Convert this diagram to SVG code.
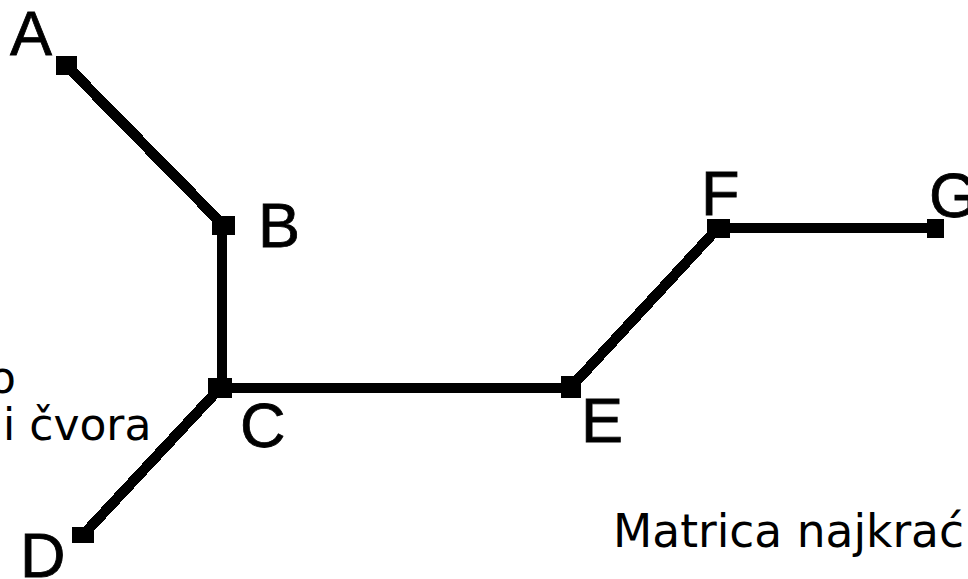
<svg xmlns="http://www.w3.org/2000/svg" width="968" height="579" viewBox="0 0 968 579">
<style>
.edge{stroke:#000;stroke-width:10.5;fill:none;stroke-linecap:butt}
.node{fill:#000}
.lbl{font-family:"Liberation Sans",Arial,sans-serif;font-size:63px;fill:#000;stroke:#000;stroke-width:0.8}
.txt{font-family:"DejaVu Sans","Verdana",sans-serif;font-size:44px;fill:#000}
</style>
<rect width="968" height="579" fill="#fff"/>
<g id="connectors" shape-rendering="crispEdges">
<line class="edge" x1="66" y1="65" x2="223" y2="225"/>
<line class="edge" x1="222" y1="225" x2="222" y2="388"/>
<line class="edge" x1="220" y1="388" x2="571" y2="388"/>
<line class="edge" x1="571" y1="387" x2="718" y2="228"/>
<line class="edge" x1="718" y1="228" x2="935" y2="228"/>
<line class="edge" x1="220" y1="388" x2="83" y2="535"/>
</g>
<g id="A"><rect class="node" x="56" y="56" width="21" height="19"/><text class="lbl" x="10" y="55">A</text></g>
<g id="B"><rect class="node" x="212" y="216" width="23" height="19"/><text class="lbl" x="258" y="247">B</text></g>
<g id="C"><rect class="node" x="208" y="378" width="24" height="20"/><text class="lbl" x="240" y="447">C</text></g>
<g id="D"><rect class="node" x="72" y="527" width="22" height="16"/><text class="lbl" x="20" y="577">D</text></g>
<g id="E"><rect class="node" x="561" y="376" width="20" height="22"/><text class="lbl" x="581" y="442">E</text></g>
<g id="F"><rect class="node" x="707" y="219" width="23" height="19"/><text class="lbl" x="701" y="215">F</text></g>
<g id="G"><rect class="node" x="927" y="219" width="17" height="19"/><text class="lbl" x="929" y="217">G</text></g>
<text class="txt" x="16" y="393" text-anchor="end">o</text>
<text class="txt" x="3" y="440">i čvora</text>
<text class="txt" x="613" y="547" style="font-size:45.5px">Matrica najkrać</text>
</svg>
